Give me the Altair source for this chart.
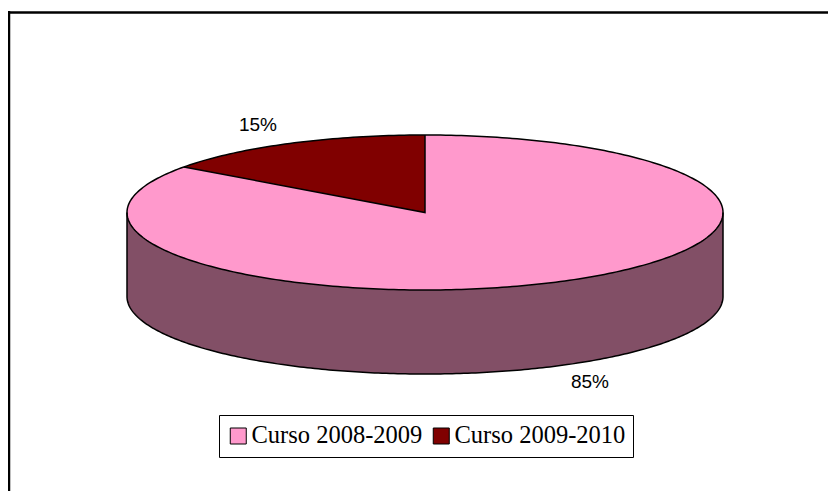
import numpy as np
import pandas as pd
import altair as alt

categories = ["Curso 2008-2009", "Curso 2009-2010"]
shares = [85, 15]
labels = ["85%", "15%"]
colors = ["#FF99CC", "#800000"]
wall_color = "#824F66"

DEPTH = 84 / 77.5  # wall height in units of the ellipse's vertical radius
wedge_end = np.pi / 2 + 2 * np.pi * shares[1] / sum(shares)
xs_full = np.cos(np.linspace(np.pi, 0, 241))
upper = np.sqrt(np.clip(1 - xs_full**2, 0, None))
xs_wedge = np.cos(np.linspace(wedge_end, np.pi / 2, 61))
wedge_top = np.sqrt(np.clip(1 - xs_wedge**2, 0, None))
wedge_bottom = xs_wedge * (np.sin(wedge_end) / np.cos(wedge_end))

top = pd.concat([
    pd.DataFrame({"x": xs_full, "y": upper, "y2": -upper, "serie": categories[0]}),
    pd.DataFrame({"x": xs_wedge, "y": wedge_top, "y2": wedge_bottom, "serie": categories[1]}),
])
wall = pd.DataFrame({"x": xs_full, "y": -upper, "y2": -upper - DEPTH})

t = np.linspace(0, 2 * np.pi, 361)
outline = [pd.DataFrame({"x": np.cos(t), "y": np.sin(t), "g": "top"})]
outline.append(pd.DataFrame({"x": [np.cos(wedge_end), 0, 0], "y": [np.sin(wedge_end), 0, 1], "g": "wedge"}))
outline.append(pd.DataFrame({
    "x": np.r_[-1, xs_full, 1],
    "y": np.r_[0, -upper - DEPTH, 0],
    "g": "wall",
}))
outline = pd.concat([d.assign(i=np.arange(len(d))) for d in outline])

W, H = 820, 483
CX, CY, A, B = 417.0, 204.5, 298.0, 77.5
x_scale = alt.Scale(domain=[-CX / A, (W - CX) / A], nice=False, zero=False)
y_scale = alt.Scale(domain=[-(H - CY) / B, CY / B], nice=False, zero=False)
X = alt.X("x:Q", scale=x_scale, axis=None)
Y = alt.Y("y:Q", scale=y_scale, axis=None, stack=None)

wall_layer = alt.Chart(wall).mark_area(color=wall_color, orient="vertical").encode(x=X, y=Y, y2="y2:Q")

top_layer = alt.Chart(top).mark_area(orient="vertical").encode(
    x=X, y=Y, y2="y2:Q",
    color=alt.Color(
        "serie:N",
        scale=alt.Scale(domain=categories, range=colors),
        legend=alt.Legend(
            orient="none", legendX=211, legendY=407, columns=2, title=None,
            symbolType="square", symbolSize=256, symbolStrokeColor="black",
            symbolStrokeWidth=1, symbolOpacity=1, labelFont="Liberation Serif",
            labelFontSize=24.5, labelColor="black", labelLimit=300, labelOffset=1,
            columnPadding=6, clipHeight=28, fillColor="white", strokeColor="black", padding=7,
        ),
    ),
)

line_layer = alt.Chart(outline).mark_line(color="black", strokeWidth=1.5).encode(
    x=X, y=Y, detail="g:N", order="i:Q"
)

label_15 = alt.Chart(pd.DataFrame({"t": [labels[1]]})).mark_text(
    font="Liberation Sans", fontSize=19, color="black"
).encode(text="t:N", x=alt.value(250), y=alt.value(117))
label_85 = alt.Chart(pd.DataFrame({"t": [labels[0]]})).mark_text(
    font="Liberation Sans", fontSize=19, color="black"
).encode(text="t:N", x=alt.value(582), y=alt.value(374))

frame_top = alt.Chart(pd.DataFrame({"a": [0]})).mark_rule(color="black", strokeWidth=2.5).encode(
    x=alt.value(0), x2=alt.value(W), y=alt.value(4.5)
)
frame_left = alt.Chart(pd.DataFrame({"a": [0]})).mark_rule(color="black", strokeWidth=2.5).encode(
    x=alt.value(1), y=alt.value(3), y2=alt.value(H)
)

chart = alt.layer(
    wall_layer, top_layer, line_layer, label_15, label_85, frame_top, frame_left
).resolve_scale(x="shared", y="shared").properties(
    width=W, height=H, padding=0, background="white",
    autosize=alt.AutoSizeParams(type="none"),
).configure_view(stroke=None)

chart.save("out.html", embed_options={"renderer": "svg", "actions": False})
